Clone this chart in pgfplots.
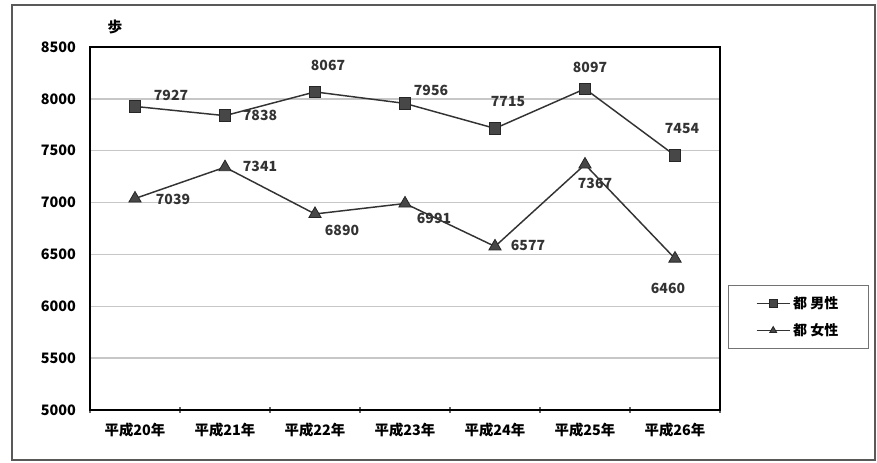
\documentclass[border=0pt]{standalone}
\usepackage{fontspec}
\setmainfont{Noto Sans CJK JP}
\usepackage{pgfplots}
\pgfplotsset{compat=1.18}
\newcommand{\lab}[5][]{\node[font=\bfseries\fontsize{10.5}{12}\selectfont, inner sep=0pt, text=black!80, #1] at (axis cs:#2,#3) [xshift=#4*0.75pt, yshift=#5*0.75pt] {\pgfmathprintnumber[1000 sep={}]{#3}};}
\begin{document}
\begin{tikzpicture}[x=0.75pt,y=0.75pt]
\useasboundingbox (0,0) rectangle (877,463);
\draw[black!65, line width=1.1pt] (12,3) rectangle (875,458);
\node[font=\bfseries\fontsize{11}{12}\selectfont] at (115,436) {歩};
\begin{axis}[at={(67.5pt,39.75pt)}, anchor=south west, scale only axis,
  width=472.5pt, height=272.25pt,
  xmin=-0.5, xmax=6.5, ymin=5000, ymax=8500,
  xtick={0,...,6},
  xticklabels={平成20年,平成21年,平成22年,平成23年,平成24年,平成25年,平成26年},
  minor xtick={-0.5,0.5,1.5,2.5,3.5,4.5,5.5,6.5},
  major tick length=0pt, minor tick length=4pt,
  xtick align=center, tickpos=left,
  ytick={5000,5500,...,8500}, ymajorgrids,
  grid style={black!22, line width=1pt},
  axis line style={black, line width=1.3pt},
  minor tick style={black!60, line width=0.8pt},
  ticklabel style={font=\bfseries\fontsize{10.8}{12}\selectfont},
  yticklabel style={xshift=-7pt},
  xticklabel style={yshift=-6pt},
  /pgf/number format/assume math mode=true,
  /pgf/number format/1000 sep={},
  scaled y ticks=false,
  clip=false,
  legend style={at={(1.0127,0.3444)}, anchor=north west, draw=black!55, line width=0.9pt,
    font=\bfseries\fontsize{10.5}{12}\selectfont, inner xsep=20.5pt, inner ysep=6pt,
    row sep=6pt, /tikz/every even column/.append style={column sep=5pt}},
  legend cell align=left,
  legend image code/.code={\draw[mark repeat=2, mark phase=2, #1, mark size=3pt, line width=0.9pt] plot coordinates {(0pt,0pt) (12.5pt,0pt) (25pt,0pt)};},
]
\addplot[color=black!80, line width=1.1pt, mark=square*, mark size=4.4pt,
  mark options={fill=black!72, draw=black!85, line width=0.6pt}]
  coordinates {(0,7927)(1,7838)(2,8067)(3,7956)(4,7715)(5,8097)(6,7454)};
\addlegendentry{都 男性}
\addplot[color=black!80, line width=1.1pt, mark=triangle*, mark size=5.3pt,
  mark options={fill=black!72, draw=black!85, line width=0.6pt}]
  coordinates {(0,7039)(1,7341)(2,6890)(3,6991)(4,6577)(5,7367)(6,6460)};
\addlegendentry{都 女性}
\lab{0}{7927}{36}{11}
\lab{1}{7838}{35}{0}
\lab{2}{8067}{13}{26}
\lab{3}{7956}{26}{13}
\lab{4}{7715}{13}{27}
\lab{5}{8097}{5}{21}
\lab{6}{7454}{7}{27}
\lab{0}{7039}{38}{-1}
\lab{1}{7341}{35}{1}
\lab{2}{6890}{27}{-16}
\lab{3}{6991}{29}{-15}
\lab{4}{6577}{33}{1}
\lab{5}{7367}{10}{-19}
\lab{6}{6460}{-7}{-30}
\end{axis}
\end{tikzpicture}
\end{document}
